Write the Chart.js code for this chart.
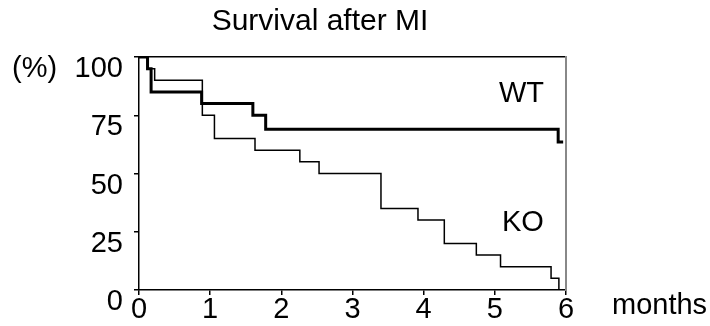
<!DOCTYPE html>
<html>
<head>
<meta charset="utf-8">
<title>Survival after MI</title>
<script src="https://cdn.jsdelivr.net/npm/chart.js@4.4.0/dist/chart.umd.min.js"></script>
<style>
  html, body { margin: 0; padding: 0; background: #fff; }
  #wrap { width: 710px; height: 326px; }
</style>
</head>
<body>
<div id="wrap"><canvas id="chart" width="710" height="326"></canvas></div>
<script>
// Kaplan-Meier steps (time in months, survival in %)
const wtMonths   = [0, 0.12, 0.17, 0.88, 1.6, 1.78, 5.89, 5.96];
const wtSurvival = [100, 95, 85, 80, 75, 69, 63.5, 63.5];

const koMonths   = [0, 0.12, 0.22, 0.89, 1.06, 1.63, 2.26, 2.53, 3.4, 3.92, 4.29, 4.74, 5.08, 5.79, 5.9];
const koSurvival = [100, 95, 90, 75, 65, 60, 55, 50, 35, 30, 20, 15, 10, 5, 0];

const xTicks = [0, 1, 2, 3, 4, 5, 6];
const yTicks = [0, 25, 50, 75, 100];

const FONT = '"Liberation Sans", Arial, sans-serif';

function toPoints(xs, ys) {
  return xs.map((x, i) => ({ x: x, y: ys[i] }));
}

// extra labels: unit, x title and group names
const annotations = {
  id: 'annotations',
  afterDraw(chart) {
    const { ctx, chartArea } = chart;
    const y = chart.scales.y;
    ctx.save();
    ctx.fillStyle = '#000';
    ctx.font = '29px ' + FONT;
    ctx.textBaseline = 'middle';
    ctx.textAlign = 'left';
    ctx.fillText('(%)', 12, y.getPixelForValue(100) + 12);
    ctx.fillText('months', chartArea.right + 46, 306);
    ctx.fillText('WT', 499, 94);
    ctx.fillText('KO', 502, 223);
    ctx.restore();
  }
};

new Chart(document.getElementById('chart'), {
  type: 'line',
  data: {
    datasets: [
      {
        label: 'WT',
        data: toPoints(wtMonths, wtSurvival),
        borderColor: '#000',
        borderWidth: 3,
        stepped: 'before',
        pointRadius: 0,
        fill: false
      },
      {
        label: 'KO',
        data: toPoints(koMonths, koSurvival),
        borderColor: '#000',
        borderWidth: 1.5,
        stepped: 'before',
        pointRadius: 0,
        fill: false
      }
    ]
  },
  options: {
    responsive: false,
    animation: false,
    devicePixelRatio: 1,
    layout: { padding: { left: 0, right: 70, top: 0, bottom: 0 } },
    plugins: {
      legend: { display: false },
      tooltip: { enabled: false },
      title: {
        display: true,
        text: 'Survival after MI',
        color: '#000',
        font: { family: FONT, size: 30, weight: 'normal', lineHeight: 1.2 },
        padding: { top: 4, bottom: 17 }
      }
    },
    scales: {
      x: {
        type: 'linear',
        min: 0,
        max: 6,
        afterBuildTicks: s => { s.ticks = xTicks.map(v => ({ value: v })); },
        afterFit: s => { s.height = 36; },
        ticks: {
          color: '#000',
          padding: 0,
          font: { family: FONT, size: 29, lineHeight: 1 }
        },
        grid: { drawOnChartArea: false, tickLength: 5, color: '#000', lineWidth: 1.5 },
        border: { color: '#000', width: 1.5 }
      },
      x2: {
        type: 'linear',
        position: 'top',
        afterFit: s => { s.height = 0; },
        ticks: { display: false },
        grid: { display: false },
        border: { color: '#000', width: 1.5 }
      },
      y: {
        min: 0,
        max: 100,
        afterBuildTicks: s => { s.ticks = yTicks.map(v => ({ value: v })); },
        afterFit: s => { s.width = 139; },
        ticks: {
          color: '#000',
          padding: 11,
          labelOffset: 12,
          font: { family: FONT, size: 29 }
        },
        grid: { drawOnChartArea: false, tickLength: 5, color: '#000', lineWidth: 1.5 },
        border: { color: '#000', width: 1.5 }
      },
      y2: {
        position: 'right',
        afterFit: s => { s.width = 74; },
        ticks: { display: false },
        grid: { display: false },
        border: { color: '#888', width: 2 }
      }
    }
  },
  plugins: [annotations]
});
</script>
</body>
</html>
